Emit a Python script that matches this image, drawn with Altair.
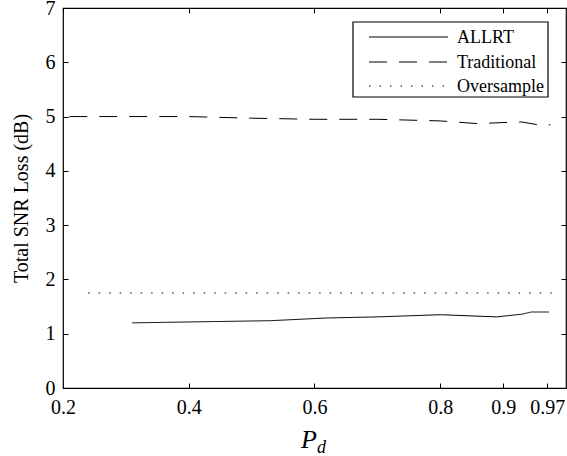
import altair as alt
import pandas as pd

# ---- data ----
allrt_pd = [0.31, 0.42, 0.53, 0.62, 0.70, 0.80, 0.89, 0.93, 0.945, 0.973]
allrt_loss = [1.20, 1.22, 1.24, 1.29, 1.31, 1.35, 1.31, 1.36, 1.40, 1.40]

trad_pd = [0.21, 0.30, 0.40, 0.50, 0.60, 0.70, 0.80, 0.86, 0.90, 0.93, 0.96, 0.975]
trad_loss = [5.00, 5.00, 5.00, 4.97, 4.95, 4.95, 4.92, 4.87, 4.89, 4.90, 4.84, 4.85]

over_pd = [0.24, 0.978]
over_loss = [1.75, 1.75]

series_names = ["ALLRT", "Traditional", "Oversample"]
series_dash = [[1, 0], [18, 12], [1.5, 9]]
x_ticks = [0.2, 0.4, 0.6, 0.8, 0.9, 0.97]
y_ticks = [0, 1, 2, 3, 4, 5, 6, 7]

rows = []
for name, xs, ys in [("ALLRT", allrt_pd, allrt_loss),
                     ("Traditional", trad_pd, trad_loss),
                     ("Oversample", over_pd, over_loss)]:
    for i, (xv, yv) in enumerate(zip(xs, ys)):
        rows.append({"series": name, "pd": xv, "loss": yv, "order": i})
df = pd.DataFrame(rows)

FONT = "Liberation Serif"
W, H = 503, 380

xscale = alt.Scale(domain=[0.2, 1.0], nice=False, zero=False)
yscale = alt.Scale(domain=[0, 7], nice=False)

lines = alt.Chart(df).mark_line(color="black", strokeWidth=1).encode(
    x=alt.X("pd:Q", scale=xscale,
            axis=alt.Axis(values=x_ticks, format=".2~f", title=None, orient="bottom",
                          offset=-5, tickSize=5, domain=False, grid=False,
                          labelFlush=False, labelOverlap=False,
                          labelPadding=9, labelFontSize=20, labelFont=FONT,
                          labelColor="black", tickColor="black")),
    y=alt.Y("loss:Q", scale=yscale,
            axis=alt.Axis(values=y_ticks, title="Total SNR Loss (dB)", orient="left",
                          offset=-5, tickSize=5, domain=False, grid=False,
                          labelFlush=False,
                          labelPadding=8, labelFontSize=20, labelFont=FONT,
                          labelColor="black", tickColor="black",
                          titleFont=FONT, titleFontSize=20, titleFontWeight="normal",
                          titleColor="black", titlePadding=14)),
    strokeDash=alt.StrokeDash(
        "series:N",
        scale=alt.Scale(domain=series_names, range=series_dash),
        legend=None,
    ),
    order="order:Q",
)

frame = alt.Chart(df).mark_line(opacity=0).encode(
    x=alt.X("pd:Q", scale=xscale,
            axis=alt.Axis(values=x_ticks, title=None, orient="top", labels=False,
                          offset=-5, tickSize=5, domain=False, grid=False,
                          tickColor="black")),
    y=alt.Y("loss:Q", scale=yscale,
            axis=alt.Axis(values=y_ticks, title=None, orient="right", labels=False,
                          offset=-5, tickSize=5, domain=False, grid=False,
                          tickColor="black")),
    detail="series:N",
)

# ---- legend box (drawn by hand) ----
one = pd.DataFrame({"k": [0]})
legend_box = alt.Chart(one).mark_rect(fill="white", stroke="black", strokeWidth=1.2).encode(
    x=alt.value(290), x2=alt.value(485), y=alt.value(14), y2=alt.value(89))
legend_layers = [legend_box]
row_y = [29, 54, 78]
for name, dash, ry in zip(series_names, series_dash, row_y):
    legend_layers.append(
        alt.Chart(one).mark_rule(color="black", strokeWidth=1, strokeDash=dash).encode(
            x=alt.value(306), x2=alt.value(385), y=alt.value(ry)))
    legend_layers.append(
        alt.Chart(pd.DataFrame({"t": [name]})).mark_text(
            font=FONT, fontSize=18, color="black", align="left", baseline="middle"
        ).encode(x=alt.value(394), y=alt.value(ry + 1), text="t:N"))

p_text = alt.Chart(pd.DataFrame({"t": ["P"]})).mark_text(
    font=FONT, fontSize=26, fontStyle="italic", color="black", align="center",
    baseline="alphabetic").encode(x=alt.value(246), y=alt.value(440), text="t:N")
d_text = alt.Chart(pd.DataFrame({"t": ["d"]})).mark_text(
    font=FONT, fontSize=18, fontStyle="italic", color="black", align="left",
    baseline="alphabetic").encode(x=alt.value(254), y=alt.value(445), text="t:N")

chart = alt.layer(frame, lines, *legend_layers, p_text, d_text).resolve_axis(
    x="independent", y="independent"
).properties(
    width=W, height=H,
    autosize=alt.AutoSizeParams(type="none"),
    padding={"left": 63, "top": 8, "right": 1, "bottom": 68},
).configure(
    background="white",
    view=alt.ViewConfig(stroke="black", strokeWidth=1.2),
)

chart.save("out.html", embed_options={"renderer": "svg", "actions": False})
